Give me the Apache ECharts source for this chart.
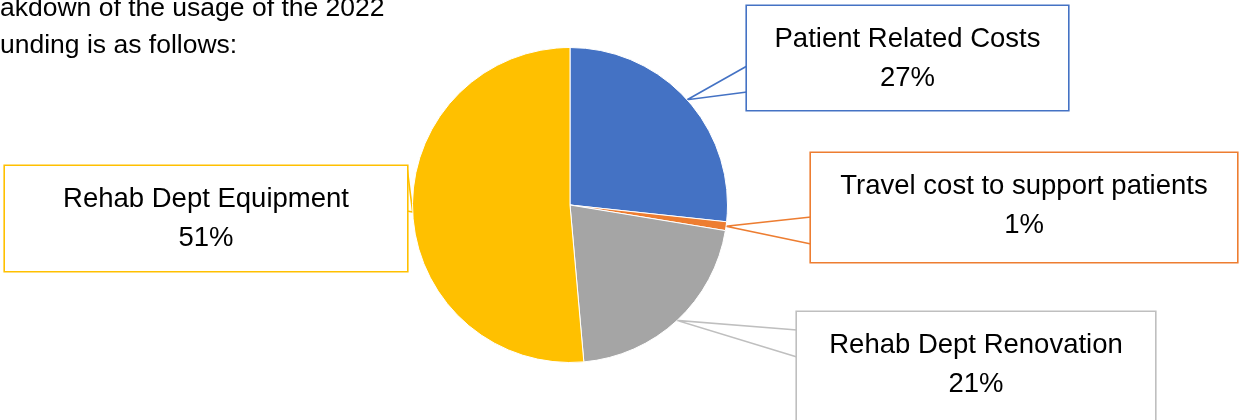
<!DOCTYPE html>
<html><head><meta charset="utf-8">
<script src="https://cdn.jsdelivr.net/npm/echarts@6/dist/echarts.min.js"></script>
<style>html,body{margin:0;padding:0;background:#fff}#c{width:1243px;height:420px}</style>
</head><body><div id="c"></div>
<script>
const categories = ['Patient Related Costs', 'Travel cost to support patients', 'Rehab Dept Renovation', 'Rehab Dept Equipment'];
const values = [26.7, 0.9, 21.0, 51.4];
const introLines = ['akdown of the usage of the 2022', 'unding is as follows:'];

const sliceColors = ['#4472C4', '#ED7D31', '#A5A5A5', '#FFC000'];
const boxColors = ['#4472C4', '#ED7D31', '#BFBFBF', '#FFC000'];
// callout boxes: left, top, width, height, pointer side, pointer attach offsets from box top
const boxes = [
  {x: 747, y: 6,   w: 321, h: 104, side: 'left',  a: 60, b: 86},
  {x: 811, y: 153, w: 426, h: 109, side: 'left',  a: 64, b: 91},
  {x: 797, y: 312, w: 358, h: 110, side: 'left',  a: 18, b: 45},
  {x: 5,   y: 166, w: 402, h: 105, side: 'right', a: 1,  b: 45}
];
const FS = 27.5, LH = 38.5, PT = 14.5;
const FONT = 'Liberation Sans';
const CX = 570, CY = 205, R = 157.5;

const chart = echarts.init(document.getElementById('c'), null, {renderer: 'canvas'});
chart.setOption({
  animation: false,
  graphic: introLines.map((t, i) => ({
    type: 'text', x: 0, y: 9 + i * 37,
    style: {text: t, font: '26.5px "Liberation Sans"', fill: '#000', verticalAlign: 'middle'}
  })),
  series: [{
    type: 'pie', center: [CX, CY], radius: R, startAngle: 90, clockwise: true,
    avoidLabelOverlap: false,
    itemStyle: {borderColor: '#fff', borderWidth: 1},
    emphasis: {disabled: true},
    label: {
      show: true, position: 'outside', overflow: 'none',
      formatter: p => p.name + '\n' + Math.round(p.percent) + '%',
      color: '#000', fontFamily: FONT, fontSize: FS, lineHeight: LH,
      backgroundColor: '#fff', borderWidth: 1.6
    },
    labelLine: {show: true, smooth: false, lineStyle: {width: 1.6}},
    labelLayout: function (params) {
      const b = boxes[params.dataIndex];
      const tip = params.labelLinePoints ? params.labelLinePoints[0] : [CX, CY];
      const ex = b.side === 'left' ? b.x : b.x + b.w;
      return {
        x: b.x + b.w / 2, y: b.y, align: 'center', verticalAlign: 'top',
        labelLinePoints: [[ex, b.y + b.a], [tip[0], tip[1]], [ex, b.y + b.b]]
      };
    },
    data: categories.map((name, i) => ({
      name, value: values[i],
      itemStyle: {color: sliceColors[i]},
      label: {width: boxes[i].w, padding: [PT, 0, boxes[i].h - 2 * LH - PT, 0], borderColor: boxColors[i]},
      labelLine: {lineStyle: {color: boxColors[i]}}
    }))
  }]
});
</script></body></html>
